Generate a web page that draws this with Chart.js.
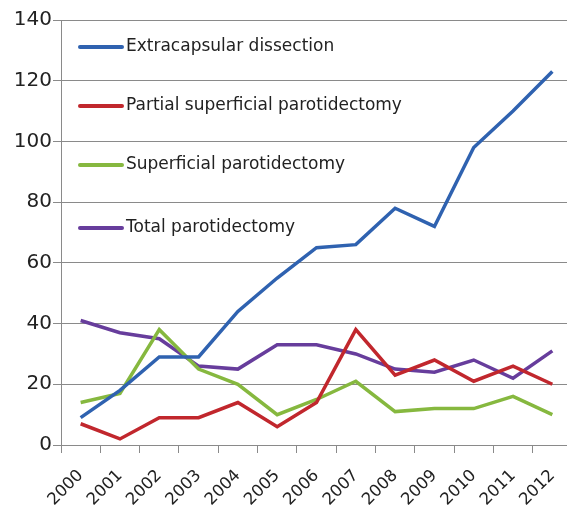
<!DOCTYPE html>
<html>
<head>
<meta charset="utf-8">
<script src="https://cdn.jsdelivr.net/npm/chart.js@4/dist/chart.umd.min.js"></script>
<style>
  html, body { margin: 0; padding: 0; background: #fff; overflow: hidden; }
  #wrap { width: 580px; height: 505px; }
</style>
</head>
<body>
<div id="wrap"><canvas id="chart" width="580" height="505"></canvas></div>
<script>
// Years on the x axis
const years = ['2000', '2001', '2002', '2003', '2004', '2005', '2006', '2007', '2008', '2009', '2010', '2011', '2012'];

// Series values
const extracapsular = [9, 18, 29, 29, 44, 55, 65, 66, 78, 72, 98, 110, 123];
const partialSuperficial = [7, 2, 9, 9, 14, 6, 14, 38, 23, 28, 21, 26, 20];
const superficial = [14, 17, 38, 25, 20, 10, 15, 21, 11, 12, 12, 16, 10];
const total = [41, 37, 35, 26, 25, 33, 33, 30, 25, 24, 28, 22, 31];

const seriesLabels = ['Extracapsular dissection', 'Partial superficial parotidectomy', 'Superficial parotidectomy', 'Total parotidectomy'];

// y axis ticks
const yMin = 0, yMax = 140, yStep = 20;

const COLORS = {
  blue:   '#2f62b0',
  red:    '#c1272d',
  green:  '#86b83f',
  purple: '#673d9c',
  grid:   '#8a8a8a',
  text:   '#222222',
};

// Legend drawn inside the plot, stacked at top-left
const legendPlugin = {
  id: 'insideLegend',
  afterDatasetsDraw(chart) {
    const { ctx, chartArea } = chart;
    const rows = [47, 106, 165, 228];
    ctx.save();
    ctx.font = '17px "DejaVu Sans", sans-serif';
    ctx.fillStyle = COLORS.text;
    ctx.textBaseline = 'middle';
    ctx.lineCap = 'round';
    chart.data.datasets.forEach((ds, i) => {
      const y = rows[i];
      const x0 = chartArea.left + 19;
      ctx.strokeStyle = ds.borderColor;
      ctx.lineWidth = 4;
      ctx.beginPath();
      ctx.moveTo(x0, y);
      ctx.lineTo(x0 + 42, y);
      ctx.stroke();
      ctx.fillText(ds.label, x0 + 46, y);
    });
    ctx.restore();
  }
};

function lineSet(label, data, color) {
  return {
    label,
    data,
    borderColor: color,
    backgroundColor: color,
    borderWidth: 3.5,
    pointRadius: 0,
    tension: 0,
    fill: false,
  };
}

new Chart(document.getElementById('chart'), {
  type: 'line',
  data: {
    labels: years,
    datasets: [
      lineSet(seriesLabels[0], extracapsular, COLORS.blue),
      lineSet(seriesLabels[1], partialSuperficial, COLORS.red),
      lineSet(seriesLabels[2], superficial, COLORS.green),
      lineSet(seriesLabels[3], total, COLORS.purple),
    ]
  },
  options: {
    responsive: false,
    animation: false,
    layout: { padding: { top: 20, right: 8, bottom: 0, left: 0 } },
    plugins: { legend: { display: false }, tooltip: { enabled: false } },
    scales: {
      x: {
        offset: true,
        grid: { offset: true, drawOnChartArea: false, drawTicks: true, tickLength: 8, color: COLORS.grid },
        border: { color: COLORS.grid, width: 1 },
        ticks: {
          color: COLORS.text,
          font: { family: '"DejaVu Sans", sans-serif', size: 16.5 },
          maxRotation: 45, minRotation: 45,
          autoSkip: false,
          padding: 13,
        },
        afterFit(scale) { scale.height = 60; },
      },
      y: {
        min: yMin, max: yMax,
        grid: { color: COLORS.grid, tickLength: 8 },
        border: { color: COLORS.grid, width: 1 },
        ticks: {
          stepSize: yStep,
          color: COLORS.text,
          font: { family: '"DejaVu Sans", sans-serif', size: 20 },
          padding: 1,
        },
        afterFit(scale) { scale.width = 61; },
      }
    }
  },
  plugins: [legendPlugin]
});
</script>
</body>
</html>
